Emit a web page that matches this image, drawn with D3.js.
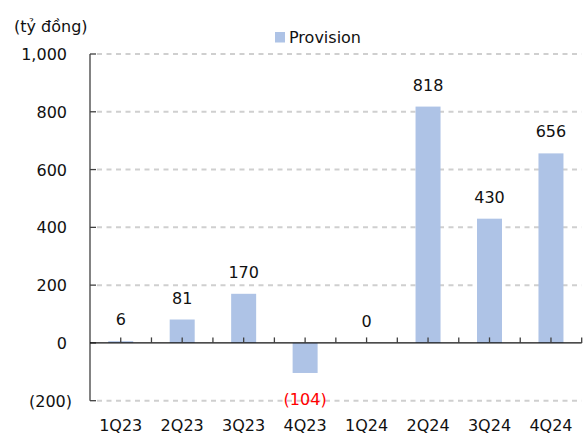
<!DOCTYPE html>
<html>
<head>
<meta charset="utf-8">
<script src="https://cdn.jsdelivr.net/npm/d3@7"></script>
<style>
  html, body { margin: 0; padding: 0; background: #fff; }
  svg text { font-family: "DejaVu Sans", sans-serif; font-size: 16px; fill: #111; }
</style>
</head>
<body>
<svg id="chart" width="586" height="437"></svg>
<script>
const categories = ["1Q23", "2Q23", "3Q23", "4Q23", "1Q24", "2Q24", "3Q24", "4Q24"];
const provision = [6, 81, 170, -104, 0, 818, 430, 656];
const yTicks = [-200, 0, 200, 400, 600, 800, 1000];
const seriesName = "Provision";
const unitLabel = "(tỷ đồng)";

(function () {
const svg = d3.select("#chart");
const pLeft = 90, pRight = 581.7, pTop = 54, pBottom = 400.7;
const barColor = "#aec3e6";

const y = d3.scaleLinear().domain([-200, 1000]).range([pBottom, pTop]);
const x = d3.scaleBand().domain(categories).range([pLeft, pRight]).padding(0);
const barW = 25;

const fmt = v => v < 0 ? "(" + d3.format(",")(-v) + ")" : d3.format(",")(v);

// gridlines
svg.append("g").selectAll("line").data(yTicks.filter(t => t !== 0)).join("line")
  .attr("x1", pLeft + 7).attr("x2", pRight)
  .attr("y1", d => y(d)).attr("y2", d => y(d))
  .attr("stroke", "#cfcfcf").attr("stroke-width", 2).attr("stroke-dasharray", "5,4.5");

// bars
svg.append("g").selectAll("rect").data(provision).join("rect")
  .attr("x", (d, i) => x(categories[i]) + x.bandwidth() / 2 - barW / 2)
  .attr("width", barW)
  .attr("y", d => y(Math.max(0, d)))
  .attr("height", d => Math.abs(y(d) - y(0)))
  .attr("fill", barColor);

// y axis line
svg.append("line").attr("x1", pLeft).attr("x2", pLeft).attr("y1", pTop).attr("y2", pBottom)
  .attr("stroke", "#404040").attr("stroke-width", 1.3);
// y ticks (inside)
svg.append("g").selectAll("line").data(yTicks).join("line")
  .attr("x1", pLeft).attr("x2", pLeft + 6)
  .attr("y1", d => y(d)).attr("y2", d => y(d))
  .attr("stroke", "#404040").attr("stroke-width", 1.3);
// y labels
svg.append("g").selectAll("text").data(yTicks).join("text")
  .attr("x", d => d < 0 ? 72 : 67)
  .attr("y", d => y(d) + 6)
  .attr("text-anchor", "end")
  .text(d => fmt(d));

// zero axis
svg.append("line").attr("x1", pLeft).attr("x2", pRight).attr("y1", y(0)).attr("y2", y(0))
  .attr("stroke", "#111").attr("stroke-width", 1.3);
const xTickPos = [];
categories.forEach(c => { xTickPos.push(x(c)); xTickPos.push(x(c) + x.bandwidth() / 2); });
xTickPos.push(pRight);
svg.append("g").selectAll("line").data(xTickPos.slice(1)).join("line")
  .attr("x1", d => d).attr("x2", d => d)
  .attr("y1", y(0) - 5.5).attr("y2", y(0))
  .attr("stroke", "#404040").attr("stroke-width", 1.3);

// category labels
svg.append("g").selectAll("text").data(categories).join("text")
  .attr("x", c => x(c) + x.bandwidth() / 2)
  .attr("y", 431)
  .attr("text-anchor", "middle")
  .text(c => c);

// data labels
svg.append("g").selectAll("text").data(provision).join("text")
  .attr("x", (d, i) => x(categories[i]) + x.bandwidth() / 2)
  .attr("y", d => d < 0 ? y(d) + 32.5 : y(d) - 16)
  .attr("text-anchor", "middle")
  .style("fill", d => d < 0 ? "#ff0000" : "#111")
  .text(d => fmt(d));

// unit label
svg.append("text").attr("x", 14).attr("y", 32).text(unitLabel);

// legend
svg.append("rect").attr("x", 275).attr("y", 32).attr("width", 10).attr("height", 10.5).attr("fill", barColor);
svg.append("text").attr("x", 289).attr("y", 43).text(seriesName);
})();
</script>
</body>
</html>
